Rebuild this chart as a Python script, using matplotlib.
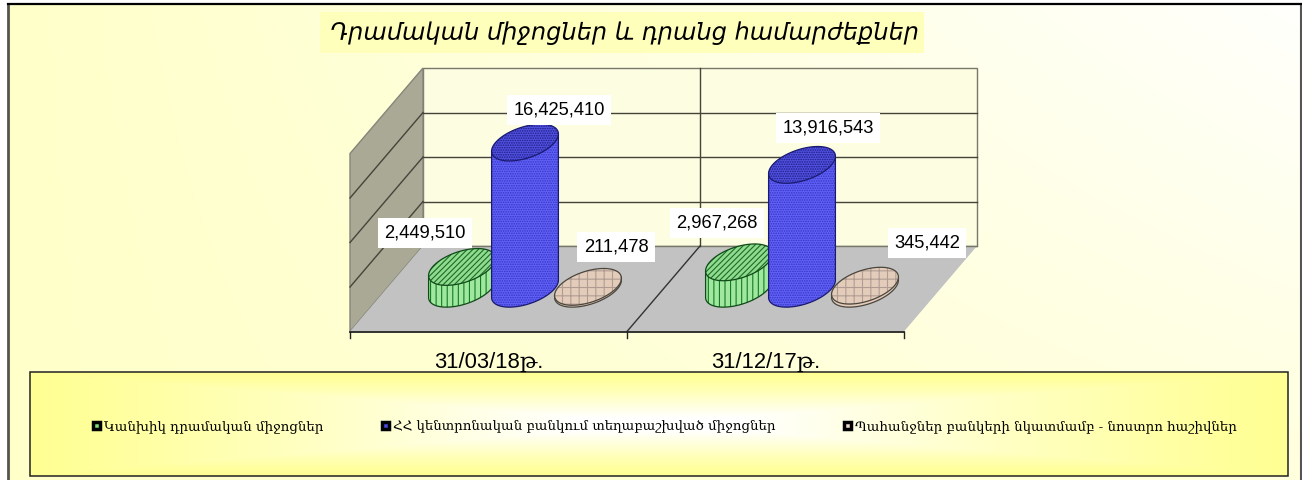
import numpy as np
import matplotlib
matplotlib.use('Agg')
import matplotlib.pyplot as plt
from matplotlib.patches import Polygon, Rectangle

# data
categories = ['31/03/18թ.', '31/12/17թ.']
series = ['Կանխիկ դրամական միջոցներ',
          'ՀՀ կենտրոնական բանկում տեղաբաշխված միջոցներ',
          'Պահանջներ բանկերի նկատմամբ - նոստրո հաշիվներ']
cash = [2449510, 2967268]
central = [16425410, 13916543]
nostro = [211478, 345442]
title = 'Դրամական միջոցներ և դրանց համարժեքներ'
grid_values = [0, 5000000, 10000000, 15000000, 20000000]

W, H = 1302, 480
plt.rcParams['hatch.linewidth'] = 0.8
fig = plt.figure(figsize=(W / 100, H / 100), dpi=100)
ax = fig.add_axes([0, 0, 1, 1])
ax.axis('off')

# chart box gradient, yellow on the left, almost white top right
yy, xx = np.mgrid[0:1:120j, 0:1:326j]
t = xx * (1 - 0.6 * yy)
bg = np.ones(t.shape + (3,))
bg[..., 2] = 0.79 + 0.2 * t
ax.imshow(bg, extent=[8, W - 1, H, 4], aspect='auto', zorder=0, interpolation='bilinear')
ax.plot([8, 8], [4, H], color='#55554a', lw=2, zorder=1)
ax.plot([W - 1, W - 1], [4, H], color='#555555', lw=1.5, zorder=1)
ax.plot([8, W - 1], [3.5, 3.5], color='black', lw=1.6, zorder=1)

# 3d frame
front_l, front_r, front_y = 350, 904, 331.5
depth_x, depth_y = 73, -85.5
wall_top = 68
wall_bot = front_y + depth_y
scale = (wall_bot - wall_top) / grid_values[-1]
cat_w = (front_r - front_l) / len(categories)

ax.add_patch(Polygon([(front_l + depth_x, wall_top), (front_r + depth_x, wall_top),
                      (front_r + depth_x, wall_bot), (front_l + depth_x, wall_bot)],
                     fc='#fdfde2', ec='#77776a', lw=1, zorder=2))
ax.add_patch(Polygon([(front_l, wall_top - depth_y), (front_l + depth_x, wall_top),
                      (front_l + depth_x, wall_bot), (front_l, front_y)],
                     fc='#a9a996', ec='#85857a', lw=1, zorder=2))
ax.add_patch(Polygon([(front_l, front_y), (front_r, front_y),
                      (front_r + depth_x, wall_bot), (front_l + depth_x, wall_bot)],
                     fc='#c2c2c2', ec='none', zorder=2))

for v in grid_values[1:-1]:
    y = wall_bot - v * scale
    ax.plot([front_l + depth_x, front_r + depth_x], [y, y], color='#44443a', lw=1, zorder=3)
    ax.plot([front_l, front_l + depth_x], [y - depth_y, y], color='#44443a', lw=1, zorder=3)
ax.plot([front_l + depth_x, front_r + depth_x], [wall_bot, wall_bot], color='#77776a', lw=1, zorder=3)
ax.plot([front_l + depth_x + cat_w] * 2, [wall_top, wall_bot], color='#44443a', lw=1, zorder=3)
ax.plot([front_l + cat_w, front_l + cat_w + depth_x], [front_y, wall_bot], color='#333333', lw=1, zorder=3)
ax.plot([front_l, front_r], [front_y, front_y], color='#222222', lw=1.3, zorder=3)
for i in range(len(categories) + 1):
    x = front_l + i * cat_w
    ax.plot([x, x], [front_y, front_y + 6], color='#222222', lw=1, zorder=3)
for i, c in enumerate(categories):
    ax.text(front_l + (i + 0.5) * cat_w, 362.5, c, ha='center', va='center', fontsize=15.8,
            family=['Liberation Sans', 'DejaVu Serif'], zorder=4)

# cylinders
r = 29.5
k = 0.215
spacing = 63
ts = np.linspace(0, 2 * np.pi, 121)


def ellipse(cx, cy):
    return np.column_stack([cx + r * np.cos(ts) + k * depth_x * np.sin(ts),
                            cy + k * depth_y * np.sin(ts)])


def shape(pts, fc, hatch, hatch_col, edge, z):
    # fill, hatch and outline apart so the hatch can have its own colour
    ax.add_patch(Polygon(pts, fc=fc, ec='none', zorder=z))
    ax.add_patch(Polygon(pts, fc='none', ec=hatch_col, hatch=hatch, lw=0, zorder=z))
    ax.add_patch(Polygon(pts, fc='none', ec=edge, lw=0.9, zorder=z))


def cylinder(cx, cy, height, side, side_h, side_c, top, top_h, top_c, edge, z):
    low = ellipse(cx, cy)
    high = ellipse(cx, cy - height)
    a = np.argmin(low[:-1, 0])
    b = np.argmax(low[:-1, 0])
    # the front half of the base is the part with y below the line a-b
    idx = [(b + j) % 120 for j in range((a - b) % 120 + 1)]
    if low[idx, 1].mean() < cy:
        idx = [(a + j) % 120 for j in range((b - a) % 120 + 1)][::-1]
    body = np.vstack([low[idx], [high[a]], [high[b]]])
    shape(body, side, side_h, side_c, edge, z)
    shape(high, top, top_h, top_c, edge, z + 0.1)


styles = [
    (cash, -spacing, '#a0e8a0', '|||', '#157a22', '#8fdc8f', '//////', '#1d6a28', '#104a18', 5),
    (central, 0, '#6262fa', '.......', '#3434c0', '#5252e0', '.......', '#1c1c88', '#1a1a70', 6),
    (nostro, spacing, '#e4ccba', '', '#e4ccba', '#e4ccba', '++', '#b09c92', '#4a463e', 7),
]
for i in range(len(categories)):
    base_x = front_l + (i + 0.5) * cat_w + depth_x / 2
    base_y = front_y + depth_y / 2
    for vals, off, side, side_h, side_c, top, top_h, top_c, edge, z in styles:
        cylinder(base_x + off, base_y, vals[i] * scale, side, side_h, side_c, top, top_h, top_c, edge, z)

# data labels
lab_xy = {(0, 0): (425, 233), (0, 1): (559, 110), (0, 2): (616, 247),
          (1, 0): (717, 223), (1, 1): (828, 128), (1, 2): (927, 243)}
for j, vals in enumerate([cash, central, nostro]):
    for i, v in enumerate(vals):
        x, y = lab_xy[(i, j)]
        ax.text(x, y, f'{v:,}', ha='center', va='center', fontsize=13.2,
                family='Liberation Sans', zorder=9,
                bbox=dict(fc='white', ec='none', pad=4.5))

# title
ax.add_patch(Rectangle((320, 12), 604, 41, fc='#ffffbc', ec='none', zorder=2))
ax.text(625, 33, title, ha='center', va='center', fontsize=17.3, style='italic',
        family='DejaVu Sans', zorder=3)

# legend box
lx0, lx1, ly0, ly1 = 30, 1288, 372, 476
yy, xx = np.mgrid[-1:1:60j, -1:1:300j]
t = 1 - np.maximum(np.abs(xx), np.abs(yy))
lg = np.ones(t.shape + (3,))
lg[..., 2] = 0.58 + 0.42 * np.clip(t * 1.15, 0, 1) ** 1.2
ax.imshow(lg, extent=[lx0, lx1, ly1, ly0], aspect='auto', zorder=2, interpolation='bilinear')
ax.add_patch(Rectangle((lx0, ly0), lx1 - lx0, ly1 - ly0, fill=False, ec='#222222', lw=1.1, zorder=3))

leg_x = [92, 381, 843]
leg_col = ['#7fe07f', '#4a4ae0', '#f0dccc']
for x, name, col in zip(leg_x, series, leg_col):
    ax.add_patch(Rectangle((x + 1, 422), 7, 7, fc=col, ec='black', lw=2.5, zorder=4))
    ax.text(x + 12, 426.5, name, ha='left', va='center', fontsize=9.6,
            family='DejaVu Serif', zorder=4)

ax.set_xlim(0, W)
ax.set_ylim(H, 0)
fig.savefig('out.png', dpi=100)
